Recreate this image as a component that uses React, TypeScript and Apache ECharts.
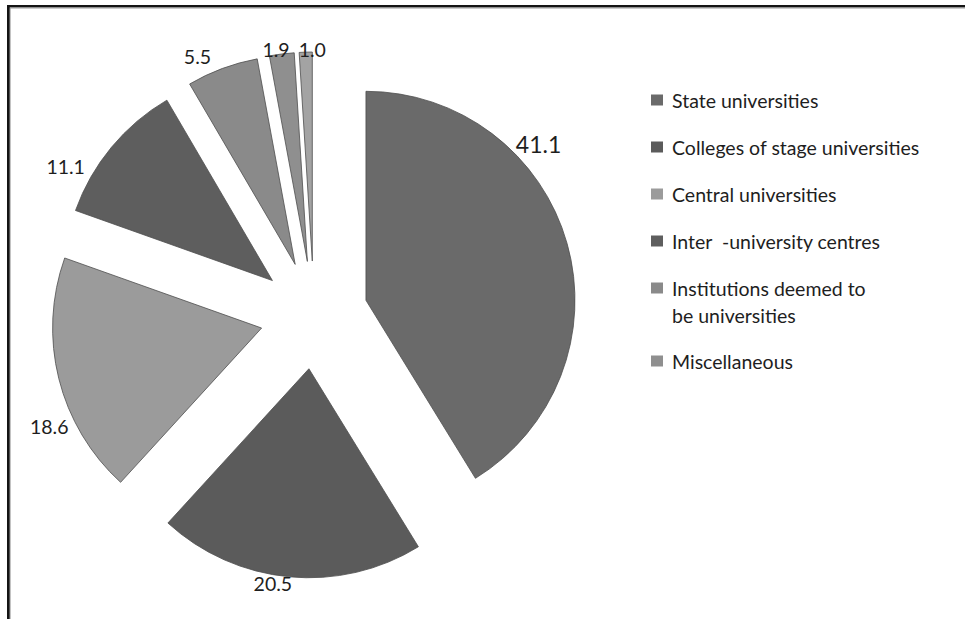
import React, { useEffect, useRef } from 'react';
import * as echarts from 'echarts';

const categories = [
  'State universities',
  'Colleges of stage universities',
  'Central universities',
  'Inter  -university centres',
  'Institutions deemed to be universities',
  'Miscellaneous',
  'Others',
];
const values = [41.1, 20.5, 18.6, 11.1, 5.5, 1.9, 1.0];
const colors = ['#6a6a6a', '#5b5b5b', '#9b9b9b', '#5e5e5e', '#8a8a8a', '#8f8f8f', '#a3a3a3'];
const legendGroupA = categories.slice(0, 4);
const legendGroupB = [categories[4]];
const legendGroupC = [categories[5]];

// label nudges (styling only)
const labelShift: number[][] = [[-47, -96], [-10, -7], [9, 45], [-30, 28], [-15, 1], [1, 9], [12, 11]];

const FONT = 'Lato';
const FS = 19.5;

export default function App() {
  const ref = useRef<HTMLDivElement>(null);
  useEffect(() => {
    if (!ref.current) return;
    const chart = echarts.init(ref.current, null, { renderer: 'svg' });
    const rich = { t: { fontFamily: FONT, fontSize: FS, color: '#1e1e1e', lineHeight: 20, padding: [0, 0, 0, 4] } };
    const legendBase = {
      orient: 'vertical',
      left: 651,
      padding: 0,
      itemWidth: 12,
      itemHeight: 11,
      icon: 'rect',
      itemGap: 27,
      itemStyle: { borderWidth: 0 },
      selectedMode: false,
      formatter: (n: string) => `{t|${n}}`,
      textStyle: { fontFamily: FONT, fontSize: FS, color: '#1e1e1e', lineHeight: 20, rich },
    };
    const rich27 = { t: { fontFamily: FONT, fontSize: FS, color: '#1e1e1e', lineHeight: 27, padding: [0, 0, 0, 4] } };
    chart.setOption({
      animation: false,
      backgroundColor: '#ffffff',
      legend: [
        { ...legendBase, top: 90, data: legendGroupA },
        {
          ...legendBase,
          top: 247.5,
          data: legendGroupB,
          formatter: (n: string) => {
            const parts = n.split('deemed to ');
            return `{t| }\n{t|${parts[0]}deemed to}\n{t|${parts[1]}}`;
          },
          textStyle: { fontFamily: FONT, fontSize: FS, color: '#1e1e1e', lineHeight: 27, rich: rich27 },
        },
        { ...legendBase, top: 351, data: legendGroupC },
      ],
      graphic: [
        { type: 'rect', shape: { x: 7, y: 5, width: 958, height: 2.6 }, style: { fill: '#141414' }, silent: true },
        { type: 'rect', shape: { x: 7, y: 7.6, width: 958, height: 0.8 }, style: { fill: '#9a9a9a' }, silent: true },
        { type: 'rect', shape: { x: 7, y: 5, width: 2.8, height: 614 }, style: { fill: '#141414' }, silent: true },
        { type: 'rect', shape: { x: 9.8, y: 7.6, width: 0.8, height: 612 }, style: { fill: '#9a9a9a' }, silent: true },
      ],
      series: [
        {
          type: 'pie',
          center: [314, 315],
          radius: 209,
          startAngle: 90,
          clockwise: true,
          selectedMode: 'multiple',
          selectedOffset: 54,
          avoidLabelOverlap: false,
          emphasis: { disabled: true },
          itemStyle: { borderColor: '#4e4e4e', borderWidth: 0.8 },
          label: {
            show: true,
            position: 'outside',
            formatter: (p: any) => Number(p.value).toFixed(1),
            fontFamily: FONT,
            fontSize: FS,
            color: '#1e1e1e',
          },
          labelLine: { show: false, length: 14, length2: 0 },
          labelLayout: (p: any) => ({
            dx: labelShift[p.dataIndex][0],
            dy: labelShift[p.dataIndex][1],
            align: 'center',
          }),
          data: categories.map((name, i) => ({
            name,
            value: values[i],
            selected: true,
            itemStyle: { color: colors[i] },
            label: i === 0 ? { fontSize: 23 } : undefined,
          })),
        },
      ],
    });
    return () => chart.dispose();
  }, []);
  return (
    <div
      ref={ref}
      style={{ position: 'fixed', left: 0, top: 0, width: 965, height: 619 }}
    />
  );
}
